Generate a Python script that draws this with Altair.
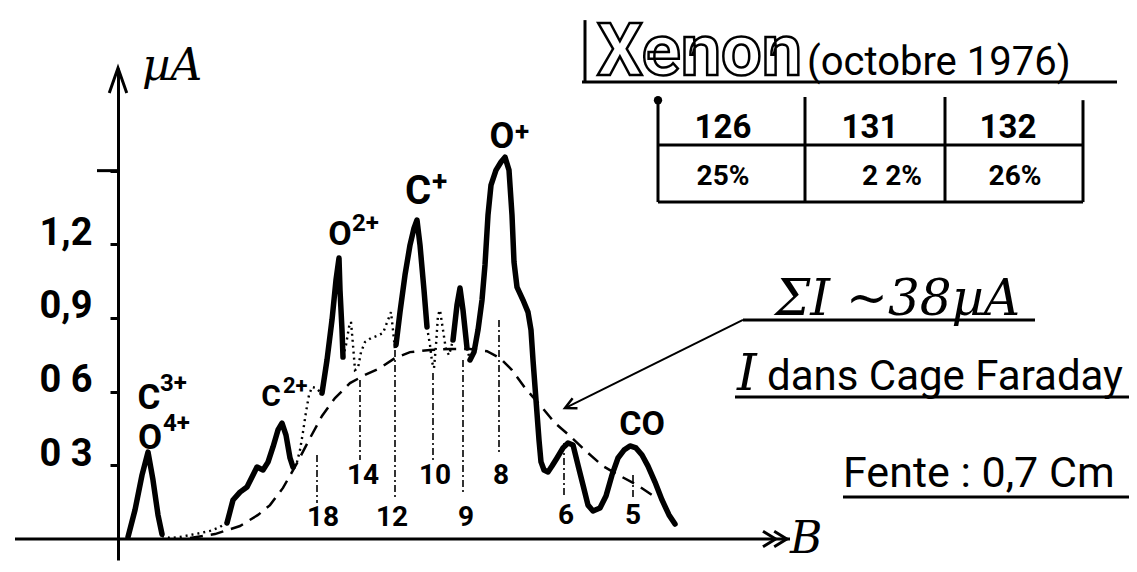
import altair as alt
import pandas as pd

# ---------------- values ----------------
# B in arbitrary units along the field axis, current in µA
# main trace (thick solid), drawn in pieces as in the original
SOLID_B = [
    [1.0, 1.7, 2.4, 3.0, 3.5, 4.0, 4.4],
    [10.9, 11.5, 12.2, 12.9, 13.9, 14.5, 15.0, 15.5, 16.0, 16.4, 16.8, 17.2, 17.5],
    [20.4, 20.9, 21.4, 21.8, 22.1, 22.2, 22.4, 22.5],
    [27.8, 28.2, 28.7, 29.2, 29.6, 29.9, 30.2, 30.6, 30.9],
    [33.5, 33.9, 34.2, 34.5, 34.9],
    [35.2, 35.6, 36.0, 36.4, 36.7, 37.0, 37.3, 37.8, 38.3, 38.7,
     39.1, 39.4, 39.6, 39.9, 40.5, 41.0, 41.3, 41.5, 41.8, 42.1,
     42.3, 42.6, 43.0, 43.4, 43.9, 44.5, 45.0, 45.5, 46.0, 46.5,
     47.0, 47.5, 48.2, 48.8, 49.4, 50.0, 50.6, 51.2, 51.8, 52.4,
     53.0, 53.7, 54.4, 55.1, 55.7],
]
SOLID_V = [
    [0.008, 0.118, 0.26, 0.354, 0.24, 0.098, 0.02],
    [0.065, 0.159, 0.191, 0.212, 0.293, 0.281, 0.313, 0.375, 0.444, 0.472, 0.423, 0.33, 0.293],
    [0.594, 0.729, 0.892, 1.055, 1.144, 1.014, 0.851, 0.741],
    [0.790, 0.924, 1.075, 1.197, 1.266, 1.299, 1.197, 1.014, 0.863],
    [0.81, 0.953, 1.022, 0.932, 0.778],
    [0.729, 0.761, 0.851, 0.973, 1.116, 1.319, 1.441, 1.502, 1.535, 1.555,
     1.502, 1.319, 1.128, 1.026, 0.973, 0.924, 0.851, 0.729, 0.566, 0.403,
     0.314, 0.281, 0.273, 0.297, 0.330, 0.371, 0.391, 0.383, 0.301, 0.220,
     0.138, 0.114, 0.126, 0.175, 0.261, 0.330, 0.362, 0.379, 0.371, 0.342,
     0.297, 0.232, 0.159, 0.098, 0.061],
]

# fine structure (dotted)
DOT_B = [
    [4.4, 5.2, 6.2, 7.2, 8.2, 9.2, 10.2, 10.9],
    [17.5, 17.9, 18.2, 18.5, 18.8, 19.1, 19.4, 19.8, 20.2, 20.4],
    [22.5, 22.8, 23.1, 23.3, 23.5, 23.7, 24.0, 24.3, 24.7, 25.3, 25.9, 26.5, 27.0, 27.3, 27.5, 27.7, 27.8],
    [30.9, 31.2, 31.4, 31.6, 31.8, 32.0, 32.2, 32.5, 32.8, 33.1, 33.5],
    [34.9, 35.1, 35.4, 35.6],
]
DOT_V = [
    [0.012, 0.004, 0.008, 0.016, 0.024, 0.033, 0.049, 0.069],
    [0.293, 0.314, 0.362, 0.436, 0.517, 0.586, 0.619, 0.615, 0.599, 0.594],
    [0.741, 0.790, 0.863, 0.884, 0.790, 0.688, 0.696, 0.761, 0.802, 0.818, 0.827, 0.839, 0.892, 0.924, 0.851, 0.770, 0.790],
    [0.863, 0.790, 0.721, 0.696, 0.790, 0.912, 0.932, 0.851, 0.770, 0.749, 0.810],
    [0.778, 0.745, 0.737, 0.770],
]

# envelope (dashed)
DASH_B = [7.2, 9.7, 12.2, 14.0, 15.2, 16.5, 17.9, 19.2, 20.4, 21.7,
          23.2, 24.7, 26.2, 27.7, 29.2, 31.2, 33.2, 35.2, 36.9, 38.2,
          39.4, 40.7, 42.2, 43.7, 45.2, 46.9, 48.5, 50.2, 51.9, 53.7]
DASH_V = [0.004, 0.020, 0.053, 0.098, 0.138, 0.208, 0.309, 0.411, 0.501, 0.574,
          0.635, 0.668, 0.696, 0.737, 0.761, 0.770, 0.774, 0.774, 0.765, 0.737,
          0.688, 0.615, 0.546, 0.472, 0.419, 0.354, 0.297, 0.257, 0.220, 0.171]

# Xe charge-state markers
MARK_LABELS = ["18", "14", "12", "10", "9", "8", "6", "5"]
MARK_B = [19.9, 24.2, 27.7, 31.5, 34.5, 38.1, 44.6, 51.5]
MARK_TOP = [0.342, 0.647, 0.770, 0.676, 0.729, 0.892, 0.391, 0.261]
MARK_BOTTOM = [0.147, 0.322, 0.159, 0.309, 0.187, 0.354, 0.171, 0.159]

# y ticks
TICK_VALUES = [0.3, 0.6, 0.9, 1.2, 1.5]
TICK_TEXT = ["0 3", "0 6", "0,9", "1,2", ""]

# peak labels
PEAK_BASE = ["C", "O", "C", "O", "C", "O", "CO"]
PEAK_SUP = ["3+", "4+", "2+", "2+", "+", "+"]

# isotope table
ISOTOPES = ["126", "131", "132"]
ABUNDANCE = ["25%", "2 2%", "26%"]

TITLE_BIG = "Xenon"
TITLE_SMALL = "(octobre 1976)"
SUM_TEXT = "ΣI ~38µA"
CAGE_I = "I"
CAGE_TEXT = "dans Cage  Faraday"
FENTE_TEXT = "Fente : 0,7 Cm"
Y_UNIT = "µA"
X_UNIT = "B"

# ---------------- layout ----------------
PAD_L, PAD_T, W, H = 110, 60, 1011, 492
XDOM = [0, 101.1]
YDOM = [-0.0855, 1.918]

X = alt.X("b:Q", scale=alt.Scale(domain=XDOM, nice=False, zero=False), axis=None)
label_expr = ""
for val, txt in zip(TICK_VALUES, TICK_TEXT):
    label_expr += f"datum.value == {val} ? '{txt}' : "
label_expr += "''"
YAXIS = alt.Axis(values=TICK_VALUES, labelExpr=label_expr, title=None, grid=False,
                 domainColor="black", domainWidth=3, tickColor="black", tickWidth=3,
                 tickSize=8, labelFont="Roboto", labelFontWeight="bold", labelFontSize=38,
                 labelColor="black", labelPadding=18, labelBaseline="alphabetic",
                 labelOverlap=False, labelFlush=False)
Y = alt.Y("v:Q", scale=alt.Scale(domain=YDOM, nice=False, zero=False), axis=YAXIS)


def seg_frame(segs_b, segs_v):
    rows = []
    for s, (bs, vs) in enumerate(zip(segs_b, segs_v)):
        assert len(bs) == len(vs)
        for i, (b, v) in enumerate(zip(bs, vs)):
            rows.append({"seg": s, "i": i, "b": b, "v": v})
    return pd.DataFrame(rows)


def line_layer(df, **mk):
    return alt.Chart(df).mark_line(color="black", **mk).encode(
        x=X, y=Y, detail="seg:N", order="i:Q")


def rule_layer(rows, width, **mk):
    df = pd.DataFrame(rows, columns=["b", "v", "b2", "v2"])
    return alt.Chart(df).mark_rule(color="black", strokeWidth=width, **mk).encode(
        x=X, y=Y, x2="b2:Q", y2="v2:Q")


def text_layer(texts, bs, vs, sizes, font="Roboto", weight="bold", style="normal",
               align="center", baseline="middle", **mk):
    df = pd.DataFrame({"t": texts, "b": bs, "v": vs, "fs": sizes})
    if "fill" not in mk:
        mk["color"] = "black"
    return alt.Chart(df).mark_text(font=font, fontWeight=weight, fontStyle=style,
                                   align=align, baseline=baseline, **mk).encode(
        x=X, y=Y, text="t:N", size=alt.Size("fs:Q", scale=None, legend=None))


layers = []
layers.append(line_layer(seg_frame([DASH_B], [DASH_V]), strokeWidth=2.5, strokeDash=[13, 8]))
layers.append(line_layer(seg_frame(DOT_B, DOT_V), strokeWidth=2.4, strokeDash=[2, 4]))
layers.append(rule_layer([(b, t, b, bt) for b, t, bt in zip(MARK_B, MARK_TOP, MARK_BOTTOM)],
                         1.6, strokeDash=[7, 3, 2, 3]))
layers.append(line_layer(seg_frame(SOLID_B, SOLID_V), strokeWidth=5.5, strokeCap="round",
                         strokeJoin="round"))

# axes lines (x axis through zero, long tick at 1.5)
layers.append(rule_layer([(-10.3, 0, 67.2, 0), (-2.1, 1.5, 0, 1.5)], 3))
# arrow heads
arrows = pd.DataFrame({"b": [0, 65.9], "v": [1.867, 0]})
layers.append(alt.Chart(arrows.iloc[[0]]).mark_point(
    shape="M-0.7,1L0,-1L0.7,1", size=625, filled=False, strokeWidth=3, color="black",
    opacity=1).encode(x=X, y=Y))
layers.append(alt.Chart(arrows.iloc[[1]]).mark_point(
    shape="M-1,-0.55L-0.1,0L-1,0.55M-0.2,-0.55L0.7,0L-0.2,0.55", size=784, filled=False,
    strokeWidth=3, color="black", opacity=1).encode(x=X, y=Y))
# leader arrow from the ΣI note to the envelope
layers.append(rule_layer([(62.5, 0.892, 44.7, 0.533)], 2))
layers.append(alt.Chart(pd.DataFrame({"b": [44.7], "v": [0.533]})).mark_point(
    shape="M-0.5,1L0,0L0.5,1", size=500, filled=False, strokeWidth=2.5, color="black",
    angle=244, opacity=1).encode(x=X, y=Y))

# title underline + bar, table grid, note underlines
layers.append(rule_layer([
    (46.4, 1.861, 99.9, 1.861), (46.7, 2.113, 46.7, 1.861),
    (54.0, 1.787, 54.0, 1.372), (68.7, 1.800, 68.7, 1.372),
    (82.7, 1.800, 82.7, 1.372), (96.5, 1.787, 96.5, 1.372),
    (54.0, 1.604, 96.5, 1.604), (54.0, 1.372, 96.5, 1.372),
    (62.5, 0.892, 91.7, 0.892), (61.7, 0.578, 101.9, 0.578),
    (72.5, 0.171, 101.2, 0.171)], 3))
layers.append(alt.Chart(pd.DataFrame({"b": [54.0], "v": [1.787]})).mark_circle(
    size=70, color="black", opacity=1).encode(x=X, y=Y))

# texts
layers.append(text_layer(PEAK_BASE, [3.1, 3.2, 15.3, 22.2, 30.0, 38.4, 52.4],
                         [0.575, 0.410, 0.578, 1.238, 1.413, 1.637, 0.464],
                         [35, 35, 30, 34, 40, 36, 34]))
layers.append(text_layer(PEAK_SUP, [4.2, 4.5, 16.5, 23.4, 31.4, 39.7],
                         [0.630, 0.468, 0.623, 1.282, 1.449, 1.657],
                         [24, 24, 22, 24, 28, 26], align="left"))
layers.append(text_layer(MARK_LABELS, [20.5, 24.5, 27.4, 31.7, 34.8, 38.3, 44.8, 51.5],
                         [0.086, 0.257, 0.086, 0.257, 0.086, 0.257, 0.094, 0.094],
                         [28] * 8))
layers.append(text_layer(ISOTOPES, [60.5, 75.2, 89.0], [1.633] * 3, [33] * 3,
                         baseline="alphabetic"))
layers.append(text_layer(ABUNDANCE, [60.5, 77.4, 89.7], [1.441] * 3, [28] * 3,
                         baseline="alphabetic"))
layers.append(text_layer([TITLE_BIG], [47.9], [1.890], [72], align="left",
                         baseline="alphabetic", fill="white", stroke="black", strokeWidth=2.5))
layers.append(text_layer([TITLE_SMALL], [68.9], [1.890], [40], weight="normal", align="left",
                         baseline="alphabetic"))
layers.append(text_layer([Y_UNIT, X_UNIT, SUM_TEXT, CAGE_I], [2.4, 67.2, 65.7, 61.9],
                         [1.869, -0.055, 0.912, 0.607], [44, 44, 50, 50],
                         font="DejaVu Serif", weight="normal", style="italic", align="left",
                         baseline="alphabetic"))
layers.append(text_layer([CAGE_TEXT, FENTE_TEXT], [64.9, 72.5], [0.607, 0.212], [42, 43],
                         weight="normal", align="left", baseline="alphabetic"))

chart = alt.layer(*layers).properties(
    width=W, height=H,
    padding={"left": PAD_L, "top": PAD_T, "right": 0, "bottom": 2},
    autosize=alt.AutoSizeParams(type="none"),
    background="white",
).configure_view(stroke=None)

chart.save("out.html", embed_options={"renderer": "svg", "actions": False})
